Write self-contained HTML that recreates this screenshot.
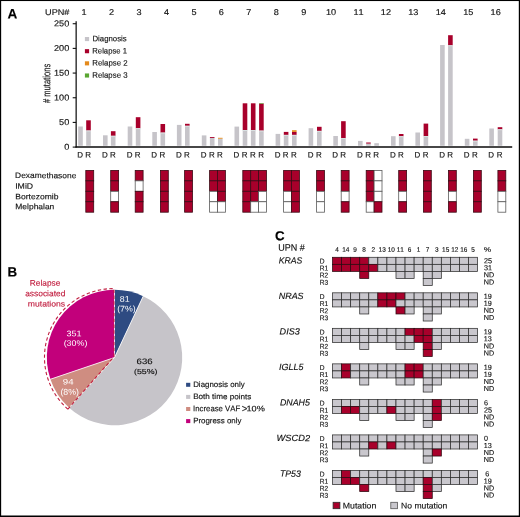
<!DOCTYPE html>
<html><head><meta charset="utf-8"><style>
html,body{margin:0;padding:0;background:#fff;}
.frame{position:relative;width:520px;height:517px;overflow:hidden;background:#fff;}
svg{position:absolute;left:0;top:0;will-change:transform;}
text{font-family:"Liberation Sans", sans-serif;text-rendering:geometricPrecision;font-kerning:none;stroke:currentColor;stroke-width:0.14px;}
</style></head><body><div class="frame">
<svg width="520" height="517" viewBox="0 0 520 517">
<rect x="0" y="0" width="520" height="517" fill="#fff"/>
<text transform="translate(7.56,18.50) matrix(0.9823,0.001,0,1,0,0)" font-size="13.808" font-weight="bold" font-style="normal" fill="#000" color="#000">A</text>
<text transform="translate(45.10,15.10) matrix(1.0828,0.001,0,1,0,0)" font-size="8.430" font-weight="normal" font-style="normal" fill="#111" color="#111">UPN#</text>
<text transform="translate(81.54,15.10) matrix(1.0800,0.001,0,1,0,0)" font-size="8.450" font-weight="normal" font-style="normal" fill="#111" color="#111">1</text>
<text transform="translate(109.10,15.10) matrix(1.0800,0.001,0,1,0,0)" font-size="8.450" font-weight="normal" font-style="normal" fill="#111" color="#111">2</text>
<text transform="translate(136.57,15.10) matrix(1.0800,0.001,0,1,0,0)" font-size="8.450" font-weight="normal" font-style="normal" fill="#111" color="#111">3</text>
<text transform="translate(164.01,15.10) matrix(1.0800,0.001,0,1,0,0)" font-size="8.450" font-weight="normal" font-style="normal" fill="#111" color="#111">4</text>
<text transform="translate(191.43,15.10) matrix(1.0800,0.001,0,1,0,0)" font-size="8.450" font-weight="normal" font-style="normal" fill="#111" color="#111">5</text>
<text transform="translate(218.83,15.10) matrix(1.0800,0.001,0,1,0,0)" font-size="8.450" font-weight="normal" font-style="normal" fill="#111" color="#111">6</text>
<text transform="translate(246.30,15.10) matrix(1.0800,0.001,0,1,0,0)" font-size="8.450" font-weight="normal" font-style="normal" fill="#111" color="#111">7</text>
<text transform="translate(273.74,15.10) matrix(1.0800,0.001,0,1,0,0)" font-size="8.450" font-weight="normal" font-style="normal" fill="#111" color="#111">8</text>
<text transform="translate(301.18,15.10) matrix(1.0800,0.001,0,1,0,0)" font-size="8.450" font-weight="normal" font-style="normal" fill="#111" color="#111">9</text>
<text transform="translate(325.92,15.10) matrix(1.0800,0.001,0,1,0,0)" font-size="8.450" font-weight="normal" font-style="normal" fill="#111" color="#111">10</text>
<text transform="translate(353.40,15.10) matrix(1.0800,0.001,0,1,0,0)" font-size="8.450" font-weight="normal" font-style="normal" fill="#111" color="#111">11</text>
<text transform="translate(380.85,15.10) matrix(1.0800,0.001,0,1,0,0)" font-size="8.450" font-weight="normal" font-style="normal" fill="#111" color="#111">12</text>
<text transform="translate(408.26,15.10) matrix(1.0800,0.001,0,1,0,0)" font-size="8.450" font-weight="normal" font-style="normal" fill="#111" color="#111">13</text>
<text transform="translate(435.63,15.10) matrix(1.0800,0.001,0,1,0,0)" font-size="8.450" font-weight="normal" font-style="normal" fill="#111" color="#111">14</text>
<text transform="translate(463.13,15.10) matrix(1.0800,0.001,0,1,0,0)" font-size="8.450" font-weight="normal" font-style="normal" fill="#111" color="#111">15</text>
<text transform="translate(490.58,15.10) matrix(1.0800,0.001,0,1,0,0)" font-size="8.450" font-weight="normal" font-style="normal" fill="#111" color="#111">16</text>
<line x1="76.15" y1="21.3" x2="76.15" y2="147.6" stroke="#111" stroke-width="1.25"/>
<line x1="72.7" y1="147.10" x2="76.2" y2="147.10" stroke="#111" stroke-width="1.1"/>
<text transform="translate(64.18,149.75) matrix(1.0800,0.001,0,1,0,0)" font-size="8.450" font-weight="normal" font-style="normal" fill="#111" color="#111">0</text>
<line x1="72.7" y1="122.42" x2="76.2" y2="122.42" stroke="#111" stroke-width="1.1"/>
<text transform="translate(59.11,125.08) matrix(1.0800,0.001,0,1,0,0)" font-size="8.450" font-weight="normal" font-style="normal" fill="#111" color="#111">50</text>
<line x1="72.7" y1="97.75" x2="76.2" y2="97.75" stroke="#111" stroke-width="1.1"/>
<text transform="translate(54.03,100.40) matrix(1.0800,0.001,0,1,0,0)" font-size="8.450" font-weight="normal" font-style="normal" fill="#111" color="#111">100</text>
<line x1="72.7" y1="73.07" x2="76.2" y2="73.07" stroke="#111" stroke-width="1.1"/>
<text transform="translate(54.03,75.72) matrix(1.0800,0.001,0,1,0,0)" font-size="8.450" font-weight="normal" font-style="normal" fill="#111" color="#111">150</text>
<line x1="72.7" y1="48.40" x2="76.2" y2="48.40" stroke="#111" stroke-width="1.1"/>
<text transform="translate(54.03,51.05) matrix(1.0800,0.001,0,1,0,0)" font-size="8.450" font-weight="normal" font-style="normal" fill="#111" color="#111">200</text>
<line x1="72.7" y1="23.72" x2="76.2" y2="23.72" stroke="#111" stroke-width="1.1"/>
<text transform="translate(54.03,26.37) matrix(1.0800,0.001,0,1,0,0)" font-size="8.450" font-weight="normal" font-style="normal" fill="#111" color="#111">250</text>
<g transform="translate(50.3,103.0) rotate(-90)">
<text transform="translate(-0.03,0) matrix(0.7250,0.001,0,1,0,0)" font-size="10.488" fill="#111" color="#111"># mutations</text>
</g>
<rect x="84.90" y="37.00" width="4.20" height="4.10" fill="#c6c4c9" />
<text transform="translate(92.46,41.30) matrix(0.9766,0.001,0,1,0,0)" font-size="8.004" font-weight="normal" font-style="normal" fill="#111" color="#111">Diagnosis</text>
<rect x="84.90" y="49.15" width="4.20" height="4.10" fill="#a8002b" />
<text transform="translate(92.27,53.45) matrix(0.9658,0.001,0,1,0,0)" font-size="8.004" font-weight="normal" font-style="normal" fill="#111" color="#111">Relapse 1</text>
<rect x="84.90" y="61.30" width="4.20" height="4.10" fill="#e48a1c" />
<text transform="translate(92.26,65.60) matrix(0.9805,0.001,0,1,0,0)" font-size="8.004" font-weight="normal" font-style="normal" fill="#111" color="#111">Relapse 2</text>
<rect x="84.90" y="73.45" width="4.20" height="4.10" fill="#5aa632" />
<text transform="translate(92.26,77.75) matrix(0.9790,0.001,0,1,0,0)" font-size="8.004" font-weight="normal" font-style="normal" fill="#111" color="#111">Relapse 3</text>
<rect x="78.20" y="126.50" width="4.60" height="19.25" fill="#c6c4c9" />
<text transform="translate(77.27,157.60) matrix(1.0000,0.001,0,1,0,0)" font-size="8.000" font-weight="normal" font-style="normal" fill="#111" color="#111">D</text>
<rect x="86.20" y="130.50" width="4.60" height="15.25" fill="#c6c4c9" />
<rect x="86.20" y="120.30" width="4.60" height="10.20" fill="#a8002b" />
<rect x="86.20" y="130.50" width="4.60" height="0.90" fill="#dbe4e4" />
<text transform="translate(85.27,157.60) matrix(1.0000,0.001,0,1,0,0)" font-size="8.000" font-weight="normal" font-style="normal" fill="#111" color="#111">R</text>
<rect x="103.00" y="135.30" width="4.60" height="10.45" fill="#c6c4c9" />
<text transform="translate(102.07,157.60) matrix(1.0000,0.001,0,1,0,0)" font-size="8.000" font-weight="normal" font-style="normal" fill="#111" color="#111">D</text>
<rect x="110.90" y="135.80" width="4.60" height="9.95" fill="#c6c4c9" />
<rect x="110.90" y="131.20" width="4.60" height="4.60" fill="#a8002b" />
<rect x="110.90" y="135.80" width="4.60" height="0.90" fill="#dbe4e4" />
<text transform="translate(109.97,157.60) matrix(1.0000,0.001,0,1,0,0)" font-size="8.000" font-weight="normal" font-style="normal" fill="#111" color="#111">R</text>
<rect x="127.70" y="126.50" width="4.60" height="19.25" fill="#c6c4c9" />
<text transform="translate(126.77,157.60) matrix(1.0000,0.001,0,1,0,0)" font-size="8.000" font-weight="normal" font-style="normal" fill="#111" color="#111">D</text>
<rect x="135.80" y="128.20" width="4.60" height="17.55" fill="#c6c4c9" />
<rect x="135.80" y="117.20" width="4.60" height="11.00" fill="#a8002b" />
<rect x="135.80" y="128.20" width="4.60" height="0.90" fill="#dbe4e4" />
<text transform="translate(134.87,157.60) matrix(1.0000,0.001,0,1,0,0)" font-size="8.000" font-weight="normal" font-style="normal" fill="#111" color="#111">R</text>
<rect x="152.30" y="132.00" width="4.60" height="13.75" fill="#c6c4c9" />
<text transform="translate(151.37,157.60) matrix(1.0000,0.001,0,1,0,0)" font-size="8.000" font-weight="normal" font-style="normal" fill="#111" color="#111">D</text>
<rect x="160.50" y="132.60" width="4.60" height="13.15" fill="#c6c4c9" />
<rect x="160.50" y="124.00" width="4.60" height="8.60" fill="#a8002b" />
<rect x="160.50" y="132.60" width="4.60" height="0.90" fill="#dbe4e4" />
<text transform="translate(159.57,157.60) matrix(1.0000,0.001,0,1,0,0)" font-size="8.000" font-weight="normal" font-style="normal" fill="#111" color="#111">R</text>
<rect x="176.90" y="124.90" width="4.60" height="20.85" fill="#c6c4c9" />
<text transform="translate(175.97,157.60) matrix(1.0000,0.001,0,1,0,0)" font-size="8.000" font-weight="normal" font-style="normal" fill="#111" color="#111">D</text>
<rect x="185.00" y="125.80" width="4.60" height="19.95" fill="#c6c4c9" />
<rect x="185.00" y="123.80" width="4.60" height="2.00" fill="#a8002b" />
<rect x="185.00" y="125.80" width="4.60" height="0.90" fill="#dbe4e4" />
<text transform="translate(184.07,157.60) matrix(1.0000,0.001,0,1,0,0)" font-size="8.000" font-weight="normal" font-style="normal" fill="#111" color="#111">R</text>
<rect x="201.80" y="135.40" width="4.60" height="10.35" fill="#c6c4c9" />
<text transform="translate(200.87,157.60) matrix(1.0000,0.001,0,1,0,0)" font-size="8.000" font-weight="normal" font-style="normal" fill="#111" color="#111">D</text>
<rect x="209.90" y="138.00" width="4.60" height="7.75" fill="#c6c4c9" />
<rect x="209.90" y="137.10" width="4.60" height="0.90" fill="#a8002b" />
<text transform="translate(208.97,157.60) matrix(1.0000,0.001,0,1,0,0)" font-size="8.000" font-weight="normal" font-style="normal" fill="#111" color="#111">R</text>
<rect x="218.00" y="138.70" width="4.60" height="7.05" fill="#c6c4c9" />
<rect x="218.00" y="137.80" width="4.60" height="0.90" fill="#e48a1c" />
<text transform="translate(217.07,157.60) matrix(1.0000,0.001,0,1,0,0)" font-size="8.000" font-weight="normal" font-style="normal" fill="#111" color="#111">R</text>
<rect x="234.50" y="126.60" width="4.60" height="19.15" fill="#c6c4c9" />
<text transform="translate(233.57,157.60) matrix(1.0000,0.001,0,1,0,0)" font-size="8.000" font-weight="normal" font-style="normal" fill="#111" color="#111">D</text>
<rect x="242.70" y="130.00" width="4.60" height="15.75" fill="#c6c4c9" />
<rect x="242.70" y="103.30" width="4.60" height="26.70" fill="#a8002b" />
<rect x="242.70" y="130.00" width="4.60" height="0.90" fill="#dbe4e4" />
<text transform="translate(241.77,157.60) matrix(1.0000,0.001,0,1,0,0)" font-size="8.000" font-weight="normal" font-style="normal" fill="#111" color="#111">R</text>
<rect x="250.90" y="130.00" width="4.60" height="15.75" fill="#c6c4c9" />
<rect x="250.90" y="103.30" width="4.60" height="26.70" fill="#a8002b" />
<rect x="250.90" y="130.00" width="4.60" height="0.90" fill="#dbe4e4" />
<text transform="translate(249.97,157.60) matrix(1.0000,0.001,0,1,0,0)" font-size="8.000" font-weight="normal" font-style="normal" fill="#111" color="#111">R</text>
<rect x="259.10" y="130.60" width="4.60" height="15.15" fill="#c6c4c9" />
<rect x="259.10" y="103.60" width="4.60" height="27.00" fill="#a8002b" />
<rect x="259.10" y="130.60" width="4.60" height="0.90" fill="#dbe4e4" />
<rect x="259.10" y="103.00" width="4.60" height="0.60" fill="#5aa632" />
<text transform="translate(258.17,157.60) matrix(1.0000,0.001,0,1,0,0)" font-size="8.000" font-weight="normal" font-style="normal" fill="#111" color="#111">R</text>
<rect x="275.60" y="133.90" width="4.60" height="11.85" fill="#c6c4c9" />
<text transform="translate(274.67,157.60) matrix(1.0000,0.001,0,1,0,0)" font-size="8.000" font-weight="normal" font-style="normal" fill="#111" color="#111">D</text>
<rect x="283.80" y="134.90" width="4.60" height="10.85" fill="#c6c4c9" />
<rect x="283.80" y="131.90" width="4.60" height="3.00" fill="#a8002b" />
<rect x="283.80" y="134.90" width="4.60" height="0.90" fill="#dbe4e4" />
<text transform="translate(282.87,157.60) matrix(1.0000,0.001,0,1,0,0)" font-size="8.000" font-weight="normal" font-style="normal" fill="#111" color="#111">R</text>
<rect x="292.00" y="134.90" width="4.60" height="10.85" fill="#c6c4c9" />
<rect x="292.00" y="131.90" width="4.60" height="3.00" fill="#a8002b" />
<rect x="292.00" y="134.90" width="4.60" height="0.90" fill="#dbe4e4" />
<rect x="292.00" y="130.20" width="4.60" height="1.70" fill="#e48a1c" />
<text transform="translate(291.07,157.60) matrix(1.0000,0.001,0,1,0,0)" font-size="8.000" font-weight="normal" font-style="normal" fill="#111" color="#111">R</text>
<rect x="308.60" y="128.20" width="4.60" height="17.55" fill="#c6c4c9" />
<text transform="translate(307.67,157.60) matrix(1.0000,0.001,0,1,0,0)" font-size="8.000" font-weight="normal" font-style="normal" fill="#111" color="#111">D</text>
<rect x="317.00" y="130.90" width="4.60" height="14.85" fill="#c6c4c9" />
<rect x="317.00" y="126.80" width="4.60" height="4.10" fill="#a8002b" />
<rect x="317.00" y="130.90" width="4.60" height="0.90" fill="#dbe4e4" />
<text transform="translate(316.07,157.60) matrix(1.0000,0.001,0,1,0,0)" font-size="8.000" font-weight="normal" font-style="normal" fill="#111" color="#111">R</text>
<rect x="333.30" y="136.00" width="4.60" height="9.75" fill="#c6c4c9" />
<text transform="translate(332.37,157.60) matrix(1.0000,0.001,0,1,0,0)" font-size="8.000" font-weight="normal" font-style="normal" fill="#111" color="#111">D</text>
<rect x="341.10" y="138.10" width="4.60" height="7.65" fill="#c6c4c9" />
<rect x="341.10" y="121.20" width="4.60" height="16.90" fill="#a8002b" />
<rect x="341.10" y="138.10" width="4.60" height="0.90" fill="#dbe4e4" />
<text transform="translate(340.17,157.60) matrix(1.0000,0.001,0,1,0,0)" font-size="8.000" font-weight="normal" font-style="normal" fill="#111" color="#111">R</text>
<rect x="358.00" y="140.90" width="4.60" height="4.85" fill="#c6c4c9" />
<text transform="translate(357.07,157.60) matrix(1.0000,0.001,0,1,0,0)" font-size="8.000" font-weight="normal" font-style="normal" fill="#111" color="#111">D</text>
<rect x="366.15" y="143.60" width="4.60" height="2.15" fill="#c6c4c9" />
<rect x="366.15" y="142.50" width="4.60" height="1.10" fill="#a8002b" />
<text transform="translate(365.22,157.60) matrix(1.0000,0.001,0,1,0,0)" font-size="8.000" font-weight="normal" font-style="normal" fill="#111" color="#111">R</text>
<rect x="374.30" y="143.20" width="4.60" height="2.55" fill="#c6c4c9" />
<text transform="translate(373.37,157.60) matrix(1.0000,0.001,0,1,0,0)" font-size="8.000" font-weight="normal" font-style="normal" fill="#111" color="#111">R</text>
<rect x="391.00" y="136.20" width="4.60" height="9.55" fill="#c6c4c9" />
<text transform="translate(390.07,157.60) matrix(1.0000,0.001,0,1,0,0)" font-size="8.000" font-weight="normal" font-style="normal" fill="#111" color="#111">D</text>
<rect x="398.90" y="136.20" width="4.60" height="9.55" fill="#c6c4c9" />
<rect x="398.90" y="134.00" width="4.60" height="2.20" fill="#a8002b" />
<rect x="398.90" y="136.20" width="4.60" height="0.90" fill="#dbe4e4" />
<text transform="translate(397.97,157.60) matrix(1.0000,0.001,0,1,0,0)" font-size="8.000" font-weight="normal" font-style="normal" fill="#111" color="#111">R</text>
<rect x="415.40" y="132.50" width="4.60" height="13.25" fill="#c6c4c9" />
<text transform="translate(414.47,157.60) matrix(1.0000,0.001,0,1,0,0)" font-size="8.000" font-weight="normal" font-style="normal" fill="#111" color="#111">D</text>
<rect x="423.60" y="136.00" width="4.60" height="9.75" fill="#c6c4c9" />
<rect x="423.60" y="123.60" width="4.60" height="12.40" fill="#a8002b" />
<rect x="423.60" y="136.00" width="4.60" height="0.90" fill="#dbe4e4" />
<text transform="translate(422.67,157.60) matrix(1.0000,0.001,0,1,0,0)" font-size="8.000" font-weight="normal" font-style="normal" fill="#111" color="#111">R</text>
<rect x="440.10" y="45.00" width="4.60" height="100.75" fill="#c6c4c9" />
<text transform="translate(439.17,157.60) matrix(1.0000,0.001,0,1,0,0)" font-size="8.000" font-weight="normal" font-style="normal" fill="#111" color="#111">D</text>
<rect x="448.10" y="45.30" width="4.60" height="100.45" fill="#c6c4c9" />
<rect x="448.10" y="35.20" width="4.60" height="10.10" fill="#a8002b" />
<rect x="448.10" y="45.30" width="4.60" height="0.90" fill="#dbe4e4" />
<text transform="translate(447.17,157.60) matrix(1.0000,0.001,0,1,0,0)" font-size="8.000" font-weight="normal" font-style="normal" fill="#111" color="#111">R</text>
<rect x="464.80" y="138.80" width="4.60" height="6.95" fill="#c6c4c9" />
<text transform="translate(463.87,157.60) matrix(1.0000,0.001,0,1,0,0)" font-size="8.000" font-weight="normal" font-style="normal" fill="#111" color="#111">D</text>
<rect x="473.00" y="140.70" width="4.60" height="5.05" fill="#c6c4c9" />
<rect x="473.00" y="138.60" width="4.60" height="2.10" fill="#a8002b" />
<rect x="473.00" y="140.70" width="4.60" height="0.90" fill="#dbe4e4" />
<text transform="translate(472.07,157.60) matrix(1.0000,0.001,0,1,0,0)" font-size="8.000" font-weight="normal" font-style="normal" fill="#111" color="#111">R</text>
<rect x="489.30" y="128.50" width="4.60" height="17.25" fill="#c6c4c9" />
<text transform="translate(488.37,157.60) matrix(1.0000,0.001,0,1,0,0)" font-size="8.000" font-weight="normal" font-style="normal" fill="#111" color="#111">D</text>
<rect x="497.70" y="129.30" width="4.60" height="16.45" fill="#c6c4c9" />
<rect x="497.70" y="127.20" width="4.60" height="2.10" fill="#a8002b" />
<rect x="497.70" y="129.30" width="4.60" height="0.90" fill="#dbe4e4" />
<text transform="translate(496.77,157.60) matrix(1.0000,0.001,0,1,0,0)" font-size="8.000" font-weight="normal" font-style="normal" fill="#111" color="#111">R</text>
<line x1="75.5" y1="146.95" x2="512.2" y2="146.95" stroke="#0a0a0a" stroke-width="1.35"/>
<text transform="translate(15.11,178.10) matrix(1.0510,0.001,0,1,0,0)" font-size="8.004" font-weight="normal" font-style="normal" fill="#111" color="#111">Dexamethasone</text>
<text transform="translate(15.20,188.70) matrix(1.0895,0.001,0,1,0,0)" font-size="8.004" font-weight="normal" font-style="normal" fill="#111" color="#111">IMiD</text>
<text transform="translate(15.30,199.25) matrix(1.0779,0.001,0,1,0,0)" font-size="7.935" font-weight="normal" font-style="normal" fill="#111" color="#111">Bortezomib</text>
<text transform="translate(15.31,209.30) matrix(1.0757,0.001,0,1,0,0)" font-size="7.866" font-weight="normal" font-style="normal" fill="#111" color="#111">Melphalan</text>
<rect x="85.80" y="170.40" width="7.90" height="10.45" fill="#a8002b" stroke="#3a0a14" stroke-width="0.8"/>
<rect x="85.80" y="180.85" width="7.90" height="10.45" fill="#a8002b" stroke="#3a0a14" stroke-width="0.8"/>
<rect x="85.80" y="191.30" width="7.90" height="10.45" fill="#a8002b" stroke="#3a0a14" stroke-width="0.8"/>
<rect x="85.80" y="201.75" width="7.90" height="10.45" fill="#a8002b" stroke="#3a0a14" stroke-width="0.8"/>
<rect x="110.70" y="170.40" width="7.90" height="10.45" fill="#a8002b" stroke="#3a0a14" stroke-width="0.8"/>
<rect x="110.70" y="180.85" width="7.90" height="10.45" fill="#a8002b" stroke="#3a0a14" stroke-width="0.8"/>
<rect x="110.70" y="191.30" width="7.90" height="10.45" fill="#fff" stroke="#5a5a5a" stroke-width="0.8"/>
<rect x="110.70" y="201.75" width="7.90" height="10.45" fill="#a8002b" stroke="#3a0a14" stroke-width="0.8"/>
<rect x="135.20" y="170.40" width="7.90" height="10.45" fill="#a8002b" stroke="#3a0a14" stroke-width="0.8"/>
<rect x="135.20" y="180.85" width="7.90" height="10.45" fill="#fff" stroke="#5a5a5a" stroke-width="0.8"/>
<rect x="135.20" y="191.30" width="7.90" height="10.45" fill="#a8002b" stroke="#3a0a14" stroke-width="0.8"/>
<rect x="135.20" y="201.75" width="7.90" height="10.45" fill="#a8002b" stroke="#3a0a14" stroke-width="0.8"/>
<rect x="160.40" y="170.40" width="7.90" height="10.45" fill="#a8002b" stroke="#3a0a14" stroke-width="0.8"/>
<rect x="160.40" y="180.85" width="7.90" height="10.45" fill="#a8002b" stroke="#3a0a14" stroke-width="0.8"/>
<rect x="160.40" y="191.30" width="7.90" height="10.45" fill="#a8002b" stroke="#3a0a14" stroke-width="0.8"/>
<rect x="160.40" y="201.75" width="7.90" height="10.45" fill="#a8002b" stroke="#3a0a14" stroke-width="0.8"/>
<rect x="184.60" y="170.40" width="7.90" height="10.45" fill="#a8002b" stroke="#3a0a14" stroke-width="0.8"/>
<rect x="184.60" y="180.85" width="7.90" height="10.45" fill="#a8002b" stroke="#3a0a14" stroke-width="0.8"/>
<rect x="184.60" y="191.30" width="7.90" height="10.45" fill="#a8002b" stroke="#3a0a14" stroke-width="0.8"/>
<rect x="184.60" y="201.75" width="7.90" height="10.45" fill="#a8002b" stroke="#3a0a14" stroke-width="0.8"/>
<rect x="209.60" y="170.40" width="7.90" height="10.45" fill="#a8002b" stroke="#3a0a14" stroke-width="0.8"/>
<rect x="209.60" y="180.85" width="7.90" height="10.45" fill="#a8002b" stroke="#3a0a14" stroke-width="0.8"/>
<rect x="209.60" y="191.30" width="7.90" height="10.45" fill="#fff" stroke="#5a5a5a" stroke-width="0.8"/>
<rect x="209.60" y="201.75" width="7.90" height="10.45" fill="#fff" stroke="#5a5a5a" stroke-width="0.8"/>
<rect x="217.50" y="170.40" width="7.90" height="10.45" fill="#a8002b" stroke="#3a0a14" stroke-width="0.8"/>
<rect x="217.50" y="180.85" width="7.90" height="10.45" fill="#a8002b" stroke="#3a0a14" stroke-width="0.8"/>
<rect x="217.50" y="191.30" width="7.90" height="10.45" fill="#a8002b" stroke="#3a0a14" stroke-width="0.8"/>
<rect x="217.50" y="201.75" width="7.90" height="10.45" fill="#fff" stroke="#5a5a5a" stroke-width="0.8"/>
<rect x="242.80" y="170.40" width="7.90" height="10.45" fill="#a8002b" stroke="#3a0a14" stroke-width="0.8"/>
<rect x="242.80" y="180.85" width="7.90" height="10.45" fill="#a8002b" stroke="#3a0a14" stroke-width="0.8"/>
<rect x="242.80" y="191.30" width="7.90" height="10.45" fill="#a8002b" stroke="#3a0a14" stroke-width="0.8"/>
<rect x="242.80" y="201.75" width="7.90" height="10.45" fill="#a8002b" stroke="#3a0a14" stroke-width="0.8"/>
<rect x="250.70" y="170.40" width="7.90" height="10.45" fill="#a8002b" stroke="#3a0a14" stroke-width="0.8"/>
<rect x="250.70" y="180.85" width="7.90" height="10.45" fill="#a8002b" stroke="#3a0a14" stroke-width="0.8"/>
<rect x="250.70" y="191.30" width="7.90" height="10.45" fill="#a8002b" stroke="#3a0a14" stroke-width="0.8"/>
<rect x="250.70" y="201.75" width="7.90" height="10.45" fill="#fff" stroke="#5a5a5a" stroke-width="0.8"/>
<rect x="258.60" y="170.40" width="7.90" height="10.45" fill="#a8002b" stroke="#3a0a14" stroke-width="0.8"/>
<rect x="258.60" y="180.85" width="7.90" height="10.45" fill="#a8002b" stroke="#3a0a14" stroke-width="0.8"/>
<rect x="258.60" y="191.30" width="7.90" height="10.45" fill="#fff" stroke="#5a5a5a" stroke-width="0.8"/>
<rect x="258.60" y="201.75" width="7.90" height="10.45" fill="#fff" stroke="#5a5a5a" stroke-width="0.8"/>
<rect x="283.60" y="170.40" width="7.90" height="10.45" fill="#a8002b" stroke="#3a0a14" stroke-width="0.8"/>
<rect x="283.60" y="180.85" width="7.90" height="10.45" fill="#a8002b" stroke="#3a0a14" stroke-width="0.8"/>
<rect x="283.60" y="191.30" width="7.90" height="10.45" fill="#fff" stroke="#5a5a5a" stroke-width="0.8"/>
<rect x="283.60" y="201.75" width="7.90" height="10.45" fill="#fff" stroke="#5a5a5a" stroke-width="0.8"/>
<rect x="291.50" y="170.40" width="7.90" height="10.45" fill="#a8002b" stroke="#3a0a14" stroke-width="0.8"/>
<rect x="291.50" y="180.85" width="7.90" height="10.45" fill="#a8002b" stroke="#3a0a14" stroke-width="0.8"/>
<rect x="291.50" y="191.30" width="7.90" height="10.45" fill="#a8002b" stroke="#3a0a14" stroke-width="0.8"/>
<rect x="291.50" y="201.75" width="7.90" height="10.45" fill="#a8002b" stroke="#3a0a14" stroke-width="0.8"/>
<rect x="316.60" y="170.40" width="7.90" height="10.45" fill="#a8002b" stroke="#3a0a14" stroke-width="0.8"/>
<rect x="316.60" y="180.85" width="7.90" height="10.45" fill="#a8002b" stroke="#3a0a14" stroke-width="0.8"/>
<rect x="316.60" y="191.30" width="7.90" height="10.45" fill="#fff" stroke="#5a5a5a" stroke-width="0.8"/>
<rect x="316.60" y="201.75" width="7.90" height="10.45" fill="#fff" stroke="#5a5a5a" stroke-width="0.8"/>
<rect x="341.20" y="170.40" width="7.90" height="10.45" fill="#a8002b" stroke="#3a0a14" stroke-width="0.8"/>
<rect x="341.20" y="180.85" width="7.90" height="10.45" fill="#a8002b" stroke="#3a0a14" stroke-width="0.8"/>
<rect x="341.20" y="191.30" width="7.90" height="10.45" fill="#fff" stroke="#5a5a5a" stroke-width="0.8"/>
<rect x="341.20" y="201.75" width="7.90" height="10.45" fill="#a8002b" stroke="#3a0a14" stroke-width="0.8"/>
<rect x="366.20" y="170.40" width="7.90" height="10.45" fill="#a8002b" stroke="#3a0a14" stroke-width="0.8"/>
<rect x="366.20" y="180.85" width="7.90" height="10.45" fill="#a8002b" stroke="#3a0a14" stroke-width="0.8"/>
<rect x="366.20" y="191.30" width="7.90" height="10.45" fill="#a8002b" stroke="#3a0a14" stroke-width="0.8"/>
<rect x="366.20" y="201.75" width="7.90" height="10.45" fill="#fff" stroke="#5a5a5a" stroke-width="0.8"/>
<rect x="374.10" y="170.40" width="7.90" height="10.45" fill="#fff" stroke="#5a5a5a" stroke-width="0.8"/>
<rect x="374.10" y="180.85" width="7.90" height="10.45" fill="#fff" stroke="#5a5a5a" stroke-width="0.8"/>
<rect x="374.10" y="191.30" width="7.90" height="10.45" fill="#fff" stroke="#5a5a5a" stroke-width="0.8"/>
<rect x="374.10" y="201.75" width="7.90" height="10.45" fill="#a8002b" stroke="#3a0a14" stroke-width="0.8"/>
<rect x="398.70" y="170.40" width="7.90" height="10.45" fill="#a8002b" stroke="#3a0a14" stroke-width="0.8"/>
<rect x="398.70" y="180.85" width="7.90" height="10.45" fill="#a8002b" stroke="#3a0a14" stroke-width="0.8"/>
<rect x="398.70" y="191.30" width="7.90" height="10.45" fill="#fff" stroke="#5a5a5a" stroke-width="0.8"/>
<rect x="398.70" y="201.75" width="7.90" height="10.45" fill="#a8002b" stroke="#3a0a14" stroke-width="0.8"/>
<rect x="423.40" y="170.40" width="7.90" height="10.45" fill="#a8002b" stroke="#3a0a14" stroke-width="0.8"/>
<rect x="423.40" y="180.85" width="7.90" height="10.45" fill="#a8002b" stroke="#3a0a14" stroke-width="0.8"/>
<rect x="423.40" y="191.30" width="7.90" height="10.45" fill="#a8002b" stroke="#3a0a14" stroke-width="0.8"/>
<rect x="423.40" y="201.75" width="7.90" height="10.45" fill="#a8002b" stroke="#3a0a14" stroke-width="0.8"/>
<rect x="448.40" y="170.40" width="7.90" height="10.45" fill="#a8002b" stroke="#3a0a14" stroke-width="0.8"/>
<rect x="448.40" y="180.85" width="7.90" height="10.45" fill="#a8002b" stroke="#3a0a14" stroke-width="0.8"/>
<rect x="448.40" y="191.30" width="7.90" height="10.45" fill="#fff" stroke="#5a5a5a" stroke-width="0.8"/>
<rect x="448.40" y="201.75" width="7.90" height="10.45" fill="#a8002b" stroke="#3a0a14" stroke-width="0.8"/>
<rect x="473.40" y="170.40" width="7.90" height="10.45" fill="#a8002b" stroke="#3a0a14" stroke-width="0.8"/>
<rect x="473.40" y="180.85" width="7.90" height="10.45" fill="#a8002b" stroke="#3a0a14" stroke-width="0.8"/>
<rect x="473.40" y="191.30" width="7.90" height="10.45" fill="#a8002b" stroke="#3a0a14" stroke-width="0.8"/>
<rect x="473.40" y="201.75" width="7.90" height="10.45" fill="#a8002b" stroke="#3a0a14" stroke-width="0.8"/>
<rect x="497.90" y="170.40" width="7.90" height="10.45" fill="#a8002b" stroke="#3a0a14" stroke-width="0.8"/>
<rect x="497.90" y="180.85" width="7.90" height="10.45" fill="#a8002b" stroke="#3a0a14" stroke-width="0.8"/>
<rect x="497.90" y="191.30" width="7.90" height="10.45" fill="#fff" stroke="#5a5a5a" stroke-width="0.8"/>
<rect x="497.90" y="201.75" width="7.90" height="10.45" fill="#fff" stroke="#5a5a5a" stroke-width="0.8"/>
<text transform="translate(7.56,276.60) matrix(0.9994,0.001,0,1,0,0)" font-size="13.372" font-weight="bold" font-style="normal" fill="#000" color="#000">B</text>
<path d="M114.5,357.5 L114.50,289.80 A67.7,67.7 0 0 1 143.21,296.19 Z" fill="#2e4b82"/>
<path d="M114.5,357.5 L143.21,296.19 A67.7,67.7 0 1 1 69.08,407.70 Z" fill="#c6c4c9"/>
<path d="M114.5,357.5 L69.08,407.70 A67.7,67.7 0 0 1 50.39,379.25 Z" fill="#cf8d81"/>
<path d="M114.5,357.5 L50.39,379.25 A67.7,67.7 0 0 1 114.50,289.80 Z" fill="#c2007b"/>
<line x1="114.5" y1="357.5" x2="114.50" y2="289.30" stroke="#fff" stroke-width="0.8"/>
<line x1="114.5" y1="357.5" x2="143.42" y2="295.74" stroke="#fff" stroke-width="0.8"/>
<line x1="114.5" y1="357.5" x2="68.75" y2="408.08" stroke="#fff" stroke-width="0.8"/>
<line x1="114.5" y1="357.5" x2="49.92" y2="379.41" stroke="#fff" stroke-width="0.8"/>
<path d="M67.9,409.1 L113.95,356.9 L113.95,288.6 A68.8,68.8 0 0 0 67.9,409.1" fill="none" stroke="#c01c3e" stroke-width="1.1" stroke-dasharray="3.4,2.4"/>
<text transform="translate(119.87,301.75) matrix(1.0715,0.001,0,1,0,0)" font-size="8.235" font-weight="normal" font-style="normal" fill="#fff" color="#fff" style="stroke:none">81</text>
<text transform="translate(117.20,311.53) matrix(1.0586,0.001,0,1,0,0)" font-size="8.319" font-weight="normal" font-style="normal" fill="#fff" color="#fff" style="stroke:none">(7%)</text>
<text transform="translate(136.61,364.00) matrix(1.2181,0.001,0,1,0,0)" font-size="7.877" font-weight="normal" font-style="normal" fill="#111" color="#111">636</text>
<text transform="translate(134.05,374.09) matrix(1.2066,0.001,0,1,0,0)" font-size="7.299" font-weight="normal" font-style="normal" fill="#111" color="#111">(55%)</text>
<text transform="translate(66.56,336.20) matrix(1.1076,0.001,0,1,0,0)" font-size="8.163" font-weight="normal" font-style="normal" fill="#fff" color="#fff" style="stroke:none">351</text>
<text transform="translate(63.65,345.78) matrix(1.1390,0.001,0,1,0,0)" font-size="7.836" font-weight="normal" font-style="normal" fill="#fff" color="#fff" style="stroke:none">(30%)</text>
<text transform="translate(62.85,384.50) matrix(1.2034,0.001,0,1,0,0)" font-size="8.020" font-weight="normal" font-style="normal" fill="#fff" color="#fff" style="stroke:none">94</text>
<text transform="translate(60.46,394.64) matrix(1.0325,0.001,0,1,0,0)" font-size="8.480" font-weight="normal" font-style="normal" fill="#fff" color="#fff" style="stroke:none">(8%)</text>
<text transform="translate(29.82,285.70) matrix(1.0057,0.001,0,1,0,0)" font-size="8.280" font-weight="normal" font-style="normal" fill="#c01c3e" color="#c01c3e">Relapse</text>
<text transform="translate(25.14,296.30) matrix(1.0181,0.001,0,1,0,0)" font-size="8.280" font-weight="normal" font-style="normal" fill="#c01c3e" color="#c01c3e">associated</text>
<text transform="translate(27.73,306.50) matrix(1.0802,0.001,0,1,0,0)" font-size="8.004" font-weight="normal" font-style="normal" fill="#c01c3e" color="#c01c3e">mutations</text>
<rect x="186.10" y="382.80" width="4.20" height="4.00" fill="#2e4b82" />
<text transform="translate(193.15,387.00) matrix(1.0260,0.001,0,1,0,0)" font-size="7.728" font-weight="normal" font-style="normal" fill="#111" color="#111">Diagnosis only</text>
<rect x="186.10" y="394.90" width="4.20" height="4.00" fill="#c6c4c9" />
<text transform="translate(193.13,399.10) matrix(1.0513,0.001,0,1,0,0)" font-size="7.728" font-weight="normal" font-style="normal" fill="#111" color="#111">Both time points</text>
<rect x="186.10" y="407.00" width="4.20" height="4.00" fill="#cf8d81" />
<text transform="translate(193.08,411.20) matrix(0.9578,0.001,0,1,0,0)" font-size="8.140" font-weight="normal" font-style="normal" fill="#111" color="#111">Increase VAF</text>
<rect x="186.10" y="419.10" width="4.20" height="4.00" fill="#c2007b" />
<text transform="translate(193.15,423.30) matrix(1.0236,0.001,0,1,0,0)" font-size="7.728" font-weight="normal" font-style="normal" fill="#111" color="#111">Progress only</text>
<text transform="translate(241.83,411.98) matrix(0.9072,0.001,0,1,0,0)" font-size="10.437" font-weight="normal" font-style="normal" fill="#111" color="#111">&gt;</text>
<text transform="translate(246.50,411.20) matrix(1.1690,0.001,0,1,0,0)" font-size="7.877" font-weight="normal" font-style="normal" fill="#111" color="#111">10%</text>
<text transform="translate(274.95,240.20) matrix(1.0210,0.001,0,1,0,0)" font-size="13.033" font-weight="bold" font-style="normal" fill="#000" color="#000">C</text>
<text transform="translate(278.20,250.70) matrix(0.9686,0.001,0,1,0,0)" font-size="9.302" font-weight="normal" font-style="normal" fill="#111" color="#111">UPN #</text>
<text transform="translate(335.16,251.70) matrix(1.0000,0.001,0,1,0,0)" font-size="6.450" font-weight="normal" font-style="normal" fill="#111" color="#111">4</text>
<text transform="translate(342.27,251.70) matrix(1.0000,0.001,0,1,0,0)" font-size="6.450" font-weight="normal" font-style="normal" fill="#111" color="#111">14</text>
<text transform="translate(353.28,251.70) matrix(1.0000,0.001,0,1,0,0)" font-size="6.450" font-weight="normal" font-style="normal" fill="#111" color="#111">9</text>
<text transform="translate(362.35,251.70) matrix(1.0000,0.001,0,1,0,0)" font-size="6.450" font-weight="normal" font-style="normal" fill="#111" color="#111">8</text>
<text transform="translate(371.42,251.70) matrix(1.0000,0.001,0,1,0,0)" font-size="6.450" font-weight="normal" font-style="normal" fill="#111" color="#111">2</text>
<text transform="translate(378.59,251.70) matrix(1.0000,0.001,0,1,0,0)" font-size="6.450" font-weight="normal" font-style="normal" fill="#111" color="#111">13</text>
<text transform="translate(387.65,251.70) matrix(1.0000,0.001,0,1,0,0)" font-size="6.450" font-weight="normal" font-style="normal" fill="#111" color="#111">10</text>
<text transform="translate(396.75,251.70) matrix(1.0000,0.001,0,1,0,0)" font-size="6.450" font-weight="normal" font-style="normal" fill="#111" color="#111">11</text>
<text transform="translate(407.68,251.70) matrix(1.0000,0.001,0,1,0,0)" font-size="6.450" font-weight="normal" font-style="normal" fill="#111" color="#111">6</text>
<text transform="translate(416.68,251.70) matrix(1.0000,0.001,0,1,0,0)" font-size="6.450" font-weight="normal" font-style="normal" fill="#111" color="#111">1</text>
<text transform="translate(425.84,251.70) matrix(1.0000,0.001,0,1,0,0)" font-size="6.450" font-weight="normal" font-style="normal" fill="#111" color="#111">7</text>
<text transform="translate(434.93,251.70) matrix(1.0000,0.001,0,1,0,0)" font-size="6.450" font-weight="normal" font-style="normal" fill="#111" color="#111">3</text>
<text transform="translate(442.08,251.70) matrix(1.0000,0.001,0,1,0,0)" font-size="6.450" font-weight="normal" font-style="normal" fill="#111" color="#111">15</text>
<text transform="translate(451.17,251.70) matrix(1.0000,0.001,0,1,0,0)" font-size="6.450" font-weight="normal" font-style="normal" fill="#111" color="#111">12</text>
<text transform="translate(460.22,251.70) matrix(1.0000,0.001,0,1,0,0)" font-size="6.450" font-weight="normal" font-style="normal" fill="#111" color="#111">16</text>
<text transform="translate(471.20,251.70) matrix(1.0000,0.001,0,1,0,0)" font-size="6.450" font-weight="normal" font-style="normal" fill="#111" color="#111">5</text>
<text transform="translate(483.70,251.80) matrix(1.2541,0.001,0,1,0,0)" font-size="6.630" font-weight="normal" font-style="normal" fill="#111" color="#111">%</text>
<text transform="translate(278.74,263.50) matrix(0.9547,0.001,0,1,0,0)" font-size="9.023" font-weight="normal" font-style="italic" fill="#111" color="#111">KRAS</text>
<text transform="translate(319.65,263.50) matrix(0.9500,0.001,0,1,0,0)" font-size="7.000" font-weight="normal" font-style="normal" fill="#111" color="#111">D</text>
<rect x="332.50" y="257.30" width="9.07" height="7.05" fill="#a8002b" stroke="#2a0a10" stroke-width="0.75"/>
<rect x="341.57" y="257.30" width="9.07" height="7.05" fill="#a8002b" stroke="#2a0a10" stroke-width="0.75"/>
<rect x="350.64" y="257.30" width="9.07" height="7.05" fill="#a8002b" stroke="#2a0a10" stroke-width="0.75"/>
<rect x="359.71" y="257.30" width="9.07" height="7.05" fill="#a8002b" stroke="#2a0a10" stroke-width="0.75"/>
<rect x="368.78" y="257.30" width="9.07" height="7.05" fill="#c9c7cd" stroke="#2e2e2e" stroke-width="0.75"/>
<rect x="377.85" y="257.30" width="9.07" height="7.05" fill="#c9c7cd" stroke="#2e2e2e" stroke-width="0.75"/>
<rect x="386.92" y="257.30" width="9.07" height="7.05" fill="#c9c7cd" stroke="#2e2e2e" stroke-width="0.75"/>
<rect x="395.99" y="257.30" width="9.07" height="7.05" fill="#c9c7cd" stroke="#2e2e2e" stroke-width="0.75"/>
<rect x="405.06" y="257.30" width="9.07" height="7.05" fill="#c9c7cd" stroke="#2e2e2e" stroke-width="0.75"/>
<rect x="414.13" y="257.30" width="9.07" height="7.05" fill="#c9c7cd" stroke="#2e2e2e" stroke-width="0.75"/>
<rect x="423.20" y="257.30" width="9.07" height="7.05" fill="#c9c7cd" stroke="#2e2e2e" stroke-width="0.75"/>
<rect x="432.27" y="257.30" width="9.07" height="7.05" fill="#c9c7cd" stroke="#2e2e2e" stroke-width="0.75"/>
<rect x="441.34" y="257.30" width="9.07" height="7.05" fill="#c9c7cd" stroke="#2e2e2e" stroke-width="0.75"/>
<rect x="450.41" y="257.30" width="9.07" height="7.05" fill="#c9c7cd" stroke="#2e2e2e" stroke-width="0.75"/>
<rect x="459.48" y="257.30" width="9.07" height="7.05" fill="#c9c7cd" stroke="#2e2e2e" stroke-width="0.75"/>
<rect x="468.55" y="257.30" width="9.07" height="7.05" fill="#c9c7cd" stroke="#2e2e2e" stroke-width="0.75"/>
<text transform="translate(319.65,270.55) matrix(0.9500,0.001,0,1,0,0)" font-size="7.000" font-weight="normal" font-style="normal" fill="#111" color="#111">R1</text>
<rect x="332.50" y="264.35" width="9.07" height="7.05" fill="#a8002b" stroke="#2a0a10" stroke-width="0.75"/>
<rect x="341.57" y="264.35" width="9.07" height="7.05" fill="#a8002b" stroke="#2a0a10" stroke-width="0.75"/>
<rect x="350.64" y="264.35" width="9.07" height="7.05" fill="#a8002b" stroke="#2a0a10" stroke-width="0.75"/>
<rect x="359.71" y="264.35" width="9.07" height="7.05" fill="#a8002b" stroke="#2a0a10" stroke-width="0.75"/>
<rect x="368.78" y="264.35" width="9.07" height="7.05" fill="#a8002b" stroke="#2a0a10" stroke-width="0.75"/>
<rect x="377.85" y="264.35" width="9.07" height="7.05" fill="#c9c7cd" stroke="#2e2e2e" stroke-width="0.75"/>
<rect x="386.92" y="264.35" width="9.07" height="7.05" fill="#c9c7cd" stroke="#2e2e2e" stroke-width="0.75"/>
<rect x="395.99" y="264.35" width="9.07" height="7.05" fill="#c9c7cd" stroke="#2e2e2e" stroke-width="0.75"/>
<rect x="405.06" y="264.35" width="9.07" height="7.05" fill="#c9c7cd" stroke="#2e2e2e" stroke-width="0.75"/>
<rect x="414.13" y="264.35" width="9.07" height="7.05" fill="#c9c7cd" stroke="#2e2e2e" stroke-width="0.75"/>
<rect x="423.20" y="264.35" width="9.07" height="7.05" fill="#c9c7cd" stroke="#2e2e2e" stroke-width="0.75"/>
<rect x="432.27" y="264.35" width="9.07" height="7.05" fill="#c9c7cd" stroke="#2e2e2e" stroke-width="0.75"/>
<rect x="441.34" y="264.35" width="9.07" height="7.05" fill="#c9c7cd" stroke="#2e2e2e" stroke-width="0.75"/>
<rect x="450.41" y="264.35" width="9.07" height="7.05" fill="#c9c7cd" stroke="#2e2e2e" stroke-width="0.75"/>
<rect x="459.48" y="264.35" width="9.07" height="7.05" fill="#c9c7cd" stroke="#2e2e2e" stroke-width="0.75"/>
<rect x="468.55" y="264.35" width="9.07" height="7.05" fill="#c9c7cd" stroke="#2e2e2e" stroke-width="0.75"/>
<text transform="translate(319.65,277.60) matrix(0.9500,0.001,0,1,0,0)" font-size="7.000" font-weight="normal" font-style="normal" fill="#111" color="#111">R2</text>
<rect x="359.71" y="271.40" width="9.07" height="7.05" fill="#a8002b" stroke="#2a0a10" stroke-width="0.75"/>
<rect x="395.99" y="271.40" width="9.07" height="7.05" fill="#c9c7cd" stroke="#2e2e2e" stroke-width="0.75"/>
<rect x="405.06" y="271.40" width="9.07" height="7.05" fill="#c9c7cd" stroke="#2e2e2e" stroke-width="0.75"/>
<rect x="423.20" y="271.40" width="9.07" height="7.05" fill="#c9c7cd" stroke="#2e2e2e" stroke-width="0.75"/>
<rect x="432.27" y="271.40" width="9.07" height="7.05" fill="#c9c7cd" stroke="#2e2e2e" stroke-width="0.75"/>
<text transform="translate(319.65,284.65) matrix(0.9500,0.001,0,1,0,0)" font-size="7.000" font-weight="normal" font-style="normal" fill="#111" color="#111">R3</text>
<rect x="423.20" y="278.45" width="9.07" height="7.05" fill="#c9c7cd" stroke="#2e2e2e" stroke-width="0.75"/>
<text transform="translate(483.94,263.25) matrix(1.0000,0.001,0,1,0,0)" font-size="7.200" font-weight="normal" font-style="normal" fill="#111" color="#111">25</text>
<text transform="translate(484.03,270.30) matrix(1.0000,0.001,0,1,0,0)" font-size="7.200" font-weight="normal" font-style="normal" fill="#111" color="#111">31</text>
<text transform="translate(483.71,277.35) matrix(1.0000,0.001,0,1,0,0)" font-size="7.200" font-weight="normal" font-style="normal" fill="#111" color="#111">ND</text>
<text transform="translate(483.71,284.40) matrix(1.0000,0.001,0,1,0,0)" font-size="7.200" font-weight="normal" font-style="normal" fill="#111" color="#111">ND</text>
<text transform="translate(278.72,299.02) matrix(0.9922,0.001,0,1,0,0)" font-size="9.023" font-weight="normal" font-style="italic" fill="#111" color="#111">NRAS</text>
<text transform="translate(319.65,299.02) matrix(0.9500,0.001,0,1,0,0)" font-size="7.000" font-weight="normal" font-style="normal" fill="#111" color="#111">D</text>
<rect x="332.50" y="292.82" width="9.07" height="7.05" fill="#c9c7cd" stroke="#2e2e2e" stroke-width="0.75"/>
<rect x="341.57" y="292.82" width="9.07" height="7.05" fill="#c9c7cd" stroke="#2e2e2e" stroke-width="0.75"/>
<rect x="350.64" y="292.82" width="9.07" height="7.05" fill="#c9c7cd" stroke="#2e2e2e" stroke-width="0.75"/>
<rect x="359.71" y="292.82" width="9.07" height="7.05" fill="#c9c7cd" stroke="#2e2e2e" stroke-width="0.75"/>
<rect x="368.78" y="292.82" width="9.07" height="7.05" fill="#c9c7cd" stroke="#2e2e2e" stroke-width="0.75"/>
<rect x="377.85" y="292.82" width="9.07" height="7.05" fill="#a8002b" stroke="#2a0a10" stroke-width="0.75"/>
<rect x="386.92" y="292.82" width="9.07" height="7.05" fill="#a8002b" stroke="#2a0a10" stroke-width="0.75"/>
<rect x="395.99" y="292.82" width="9.07" height="7.05" fill="#a8002b" stroke="#2a0a10" stroke-width="0.75"/>
<rect x="405.06" y="292.82" width="9.07" height="7.05" fill="#c9c7cd" stroke="#2e2e2e" stroke-width="0.75"/>
<rect x="414.13" y="292.82" width="9.07" height="7.05" fill="#c9c7cd" stroke="#2e2e2e" stroke-width="0.75"/>
<rect x="423.20" y="292.82" width="9.07" height="7.05" fill="#c9c7cd" stroke="#2e2e2e" stroke-width="0.75"/>
<rect x="432.27" y="292.82" width="9.07" height="7.05" fill="#c9c7cd" stroke="#2e2e2e" stroke-width="0.75"/>
<rect x="441.34" y="292.82" width="9.07" height="7.05" fill="#c9c7cd" stroke="#2e2e2e" stroke-width="0.75"/>
<rect x="450.41" y="292.82" width="9.07" height="7.05" fill="#c9c7cd" stroke="#2e2e2e" stroke-width="0.75"/>
<rect x="459.48" y="292.82" width="9.07" height="7.05" fill="#c9c7cd" stroke="#2e2e2e" stroke-width="0.75"/>
<rect x="468.55" y="292.82" width="9.07" height="7.05" fill="#c9c7cd" stroke="#2e2e2e" stroke-width="0.75"/>
<text transform="translate(319.65,306.07) matrix(0.9500,0.001,0,1,0,0)" font-size="7.000" font-weight="normal" font-style="normal" fill="#111" color="#111">R1</text>
<rect x="332.50" y="299.87" width="9.07" height="7.05" fill="#c9c7cd" stroke="#2e2e2e" stroke-width="0.75"/>
<rect x="341.57" y="299.87" width="9.07" height="7.05" fill="#c9c7cd" stroke="#2e2e2e" stroke-width="0.75"/>
<rect x="350.64" y="299.87" width="9.07" height="7.05" fill="#c9c7cd" stroke="#2e2e2e" stroke-width="0.75"/>
<rect x="359.71" y="299.87" width="9.07" height="7.05" fill="#c9c7cd" stroke="#2e2e2e" stroke-width="0.75"/>
<rect x="368.78" y="299.87" width="9.07" height="7.05" fill="#c9c7cd" stroke="#2e2e2e" stroke-width="0.75"/>
<rect x="377.85" y="299.87" width="9.07" height="7.05" fill="#a8002b" stroke="#2a0a10" stroke-width="0.75"/>
<rect x="386.92" y="299.87" width="9.07" height="7.05" fill="#a8002b" stroke="#2a0a10" stroke-width="0.75"/>
<rect x="395.99" y="299.87" width="9.07" height="7.05" fill="#c9c7cd" stroke="#2e2e2e" stroke-width="0.75"/>
<rect x="405.06" y="299.87" width="9.07" height="7.05" fill="#c9c7cd" stroke="#2e2e2e" stroke-width="0.75"/>
<rect x="414.13" y="299.87" width="9.07" height="7.05" fill="#c9c7cd" stroke="#2e2e2e" stroke-width="0.75"/>
<rect x="423.20" y="299.87" width="9.07" height="7.05" fill="#c9c7cd" stroke="#2e2e2e" stroke-width="0.75"/>
<rect x="432.27" y="299.87" width="9.07" height="7.05" fill="#c9c7cd" stroke="#2e2e2e" stroke-width="0.75"/>
<rect x="441.34" y="299.87" width="9.07" height="7.05" fill="#c9c7cd" stroke="#2e2e2e" stroke-width="0.75"/>
<rect x="450.41" y="299.87" width="9.07" height="7.05" fill="#c9c7cd" stroke="#2e2e2e" stroke-width="0.75"/>
<rect x="459.48" y="299.87" width="9.07" height="7.05" fill="#c9c7cd" stroke="#2e2e2e" stroke-width="0.75"/>
<rect x="468.55" y="299.87" width="9.07" height="7.05" fill="#c9c7cd" stroke="#2e2e2e" stroke-width="0.75"/>
<text transform="translate(319.65,313.12) matrix(0.9500,0.001,0,1,0,0)" font-size="7.000" font-weight="normal" font-style="normal" fill="#111" color="#111">R2</text>
<rect x="359.71" y="306.92" width="9.07" height="7.05" fill="#c9c7cd" stroke="#2e2e2e" stroke-width="0.75"/>
<rect x="395.99" y="306.92" width="9.07" height="7.05" fill="#a8002b" stroke="#2a0a10" stroke-width="0.75"/>
<rect x="405.06" y="306.92" width="9.07" height="7.05" fill="#c9c7cd" stroke="#2e2e2e" stroke-width="0.75"/>
<rect x="423.20" y="306.92" width="9.07" height="7.05" fill="#c9c7cd" stroke="#2e2e2e" stroke-width="0.75"/>
<rect x="432.27" y="306.92" width="9.07" height="7.05" fill="#c9c7cd" stroke="#2e2e2e" stroke-width="0.75"/>
<text transform="translate(319.65,320.17) matrix(0.9500,0.001,0,1,0,0)" font-size="7.000" font-weight="normal" font-style="normal" fill="#111" color="#111">R3</text>
<rect x="423.20" y="313.97" width="9.07" height="7.05" fill="#c9c7cd" stroke="#2e2e2e" stroke-width="0.75"/>
<text transform="translate(483.75,298.77) matrix(1.0000,0.001,0,1,0,0)" font-size="7.200" font-weight="normal" font-style="normal" fill="#111" color="#111">19</text>
<text transform="translate(483.75,305.82) matrix(1.0000,0.001,0,1,0,0)" font-size="7.200" font-weight="normal" font-style="normal" fill="#111" color="#111">19</text>
<text transform="translate(483.71,312.87) matrix(1.0000,0.001,0,1,0,0)" font-size="7.200" font-weight="normal" font-style="normal" fill="#111" color="#111">ND</text>
<text transform="translate(483.71,319.92) matrix(1.0000,0.001,0,1,0,0)" font-size="7.200" font-weight="normal" font-style="normal" fill="#111" color="#111">ND</text>
<text transform="translate(279.62,334.54) matrix(1.0050,0.001,0,1,0,0)" font-size="9.023" font-weight="normal" font-style="italic" fill="#111" color="#111">DIS3</text>
<text transform="translate(319.65,334.54) matrix(0.9500,0.001,0,1,0,0)" font-size="7.000" font-weight="normal" font-style="normal" fill="#111" color="#111">D</text>
<rect x="332.50" y="328.34" width="9.07" height="7.05" fill="#c9c7cd" stroke="#2e2e2e" stroke-width="0.75"/>
<rect x="341.57" y="328.34" width="9.07" height="7.05" fill="#c9c7cd" stroke="#2e2e2e" stroke-width="0.75"/>
<rect x="350.64" y="328.34" width="9.07" height="7.05" fill="#c9c7cd" stroke="#2e2e2e" stroke-width="0.75"/>
<rect x="359.71" y="328.34" width="9.07" height="7.05" fill="#c9c7cd" stroke="#2e2e2e" stroke-width="0.75"/>
<rect x="368.78" y="328.34" width="9.07" height="7.05" fill="#c9c7cd" stroke="#2e2e2e" stroke-width="0.75"/>
<rect x="377.85" y="328.34" width="9.07" height="7.05" fill="#c9c7cd" stroke="#2e2e2e" stroke-width="0.75"/>
<rect x="386.92" y="328.34" width="9.07" height="7.05" fill="#c9c7cd" stroke="#2e2e2e" stroke-width="0.75"/>
<rect x="395.99" y="328.34" width="9.07" height="7.05" fill="#c9c7cd" stroke="#2e2e2e" stroke-width="0.75"/>
<rect x="405.06" y="328.34" width="9.07" height="7.05" fill="#a8002b" stroke="#2a0a10" stroke-width="0.75"/>
<rect x="414.13" y="328.34" width="9.07" height="7.05" fill="#a8002b" stroke="#2a0a10" stroke-width="0.75"/>
<rect x="423.20" y="328.34" width="9.07" height="7.05" fill="#a8002b" stroke="#2a0a10" stroke-width="0.75"/>
<rect x="432.27" y="328.34" width="9.07" height="7.05" fill="#c9c7cd" stroke="#2e2e2e" stroke-width="0.75"/>
<rect x="441.34" y="328.34" width="9.07" height="7.05" fill="#c9c7cd" stroke="#2e2e2e" stroke-width="0.75"/>
<rect x="450.41" y="328.34" width="9.07" height="7.05" fill="#c9c7cd" stroke="#2e2e2e" stroke-width="0.75"/>
<rect x="459.48" y="328.34" width="9.07" height="7.05" fill="#c9c7cd" stroke="#2e2e2e" stroke-width="0.75"/>
<rect x="468.55" y="328.34" width="9.07" height="7.05" fill="#c9c7cd" stroke="#2e2e2e" stroke-width="0.75"/>
<text transform="translate(319.65,341.59) matrix(0.9500,0.001,0,1,0,0)" font-size="7.000" font-weight="normal" font-style="normal" fill="#111" color="#111">R1</text>
<rect x="332.50" y="335.39" width="9.07" height="7.05" fill="#c9c7cd" stroke="#2e2e2e" stroke-width="0.75"/>
<rect x="341.57" y="335.39" width="9.07" height="7.05" fill="#c9c7cd" stroke="#2e2e2e" stroke-width="0.75"/>
<rect x="350.64" y="335.39" width="9.07" height="7.05" fill="#c9c7cd" stroke="#2e2e2e" stroke-width="0.75"/>
<rect x="359.71" y="335.39" width="9.07" height="7.05" fill="#c9c7cd" stroke="#2e2e2e" stroke-width="0.75"/>
<rect x="368.78" y="335.39" width="9.07" height="7.05" fill="#c9c7cd" stroke="#2e2e2e" stroke-width="0.75"/>
<rect x="377.85" y="335.39" width="9.07" height="7.05" fill="#c9c7cd" stroke="#2e2e2e" stroke-width="0.75"/>
<rect x="386.92" y="335.39" width="9.07" height="7.05" fill="#c9c7cd" stroke="#2e2e2e" stroke-width="0.75"/>
<rect x="395.99" y="335.39" width="9.07" height="7.05" fill="#c9c7cd" stroke="#2e2e2e" stroke-width="0.75"/>
<rect x="405.06" y="335.39" width="9.07" height="7.05" fill="#c9c7cd" stroke="#2e2e2e" stroke-width="0.75"/>
<rect x="414.13" y="335.39" width="9.07" height="7.05" fill="#a8002b" stroke="#2a0a10" stroke-width="0.75"/>
<rect x="423.20" y="335.39" width="9.07" height="7.05" fill="#a8002b" stroke="#2a0a10" stroke-width="0.75"/>
<rect x="432.27" y="335.39" width="9.07" height="7.05" fill="#c9c7cd" stroke="#2e2e2e" stroke-width="0.75"/>
<rect x="441.34" y="335.39" width="9.07" height="7.05" fill="#c9c7cd" stroke="#2e2e2e" stroke-width="0.75"/>
<rect x="450.41" y="335.39" width="9.07" height="7.05" fill="#c9c7cd" stroke="#2e2e2e" stroke-width="0.75"/>
<rect x="459.48" y="335.39" width="9.07" height="7.05" fill="#c9c7cd" stroke="#2e2e2e" stroke-width="0.75"/>
<rect x="468.55" y="335.39" width="9.07" height="7.05" fill="#c9c7cd" stroke="#2e2e2e" stroke-width="0.75"/>
<text transform="translate(319.65,348.64) matrix(0.9500,0.001,0,1,0,0)" font-size="7.000" font-weight="normal" font-style="normal" fill="#111" color="#111">R2</text>
<rect x="359.71" y="342.44" width="9.07" height="7.05" fill="#c9c7cd" stroke="#2e2e2e" stroke-width="0.75"/>
<rect x="395.99" y="342.44" width="9.07" height="7.05" fill="#c9c7cd" stroke="#2e2e2e" stroke-width="0.75"/>
<rect x="405.06" y="342.44" width="9.07" height="7.05" fill="#c9c7cd" stroke="#2e2e2e" stroke-width="0.75"/>
<rect x="423.20" y="342.44" width="9.07" height="7.05" fill="#a8002b" stroke="#2a0a10" stroke-width="0.75"/>
<rect x="432.27" y="342.44" width="9.07" height="7.05" fill="#c9c7cd" stroke="#2e2e2e" stroke-width="0.75"/>
<text transform="translate(319.65,355.69) matrix(0.9500,0.001,0,1,0,0)" font-size="7.000" font-weight="normal" font-style="normal" fill="#111" color="#111">R3</text>
<rect x="423.20" y="349.49" width="9.07" height="7.05" fill="#a8002b" stroke="#2a0a10" stroke-width="0.75"/>
<text transform="translate(483.75,334.29) matrix(1.0000,0.001,0,1,0,0)" font-size="7.200" font-weight="normal" font-style="normal" fill="#111" color="#111">19</text>
<text transform="translate(483.75,341.34) matrix(1.0000,0.001,0,1,0,0)" font-size="7.200" font-weight="normal" font-style="normal" fill="#111" color="#111">13</text>
<text transform="translate(483.71,348.39) matrix(1.0000,0.001,0,1,0,0)" font-size="7.200" font-weight="normal" font-style="normal" fill="#111" color="#111">ND</text>
<text transform="translate(483.71,355.44) matrix(1.0000,0.001,0,1,0,0)" font-size="7.200" font-weight="normal" font-style="normal" fill="#111" color="#111">ND</text>
<text transform="translate(279.05,370.06) matrix(0.9899,0.001,0,1,0,0)" font-size="9.023" font-weight="normal" font-style="italic" fill="#111" color="#111">IGLL5</text>
<text transform="translate(319.65,370.06) matrix(0.9500,0.001,0,1,0,0)" font-size="7.000" font-weight="normal" font-style="normal" fill="#111" color="#111">D</text>
<rect x="332.50" y="363.86" width="9.07" height="7.05" fill="#c9c7cd" stroke="#2e2e2e" stroke-width="0.75"/>
<rect x="341.57" y="363.86" width="9.07" height="7.05" fill="#a8002b" stroke="#2a0a10" stroke-width="0.75"/>
<rect x="350.64" y="363.86" width="9.07" height="7.05" fill="#c9c7cd" stroke="#2e2e2e" stroke-width="0.75"/>
<rect x="359.71" y="363.86" width="9.07" height="7.05" fill="#c9c7cd" stroke="#2e2e2e" stroke-width="0.75"/>
<rect x="368.78" y="363.86" width="9.07" height="7.05" fill="#c9c7cd" stroke="#2e2e2e" stroke-width="0.75"/>
<rect x="377.85" y="363.86" width="9.07" height="7.05" fill="#c9c7cd" stroke="#2e2e2e" stroke-width="0.75"/>
<rect x="386.92" y="363.86" width="9.07" height="7.05" fill="#c9c7cd" stroke="#2e2e2e" stroke-width="0.75"/>
<rect x="395.99" y="363.86" width="9.07" height="7.05" fill="#c9c7cd" stroke="#2e2e2e" stroke-width="0.75"/>
<rect x="405.06" y="363.86" width="9.07" height="7.05" fill="#a8002b" stroke="#2a0a10" stroke-width="0.75"/>
<rect x="414.13" y="363.86" width="9.07" height="7.05" fill="#a8002b" stroke="#2a0a10" stroke-width="0.75"/>
<rect x="423.20" y="363.86" width="9.07" height="7.05" fill="#c9c7cd" stroke="#2e2e2e" stroke-width="0.75"/>
<rect x="432.27" y="363.86" width="9.07" height="7.05" fill="#c9c7cd" stroke="#2e2e2e" stroke-width="0.75"/>
<rect x="441.34" y="363.86" width="9.07" height="7.05" fill="#c9c7cd" stroke="#2e2e2e" stroke-width="0.75"/>
<rect x="450.41" y="363.86" width="9.07" height="7.05" fill="#c9c7cd" stroke="#2e2e2e" stroke-width="0.75"/>
<rect x="459.48" y="363.86" width="9.07" height="7.05" fill="#c9c7cd" stroke="#2e2e2e" stroke-width="0.75"/>
<rect x="468.55" y="363.86" width="9.07" height="7.05" fill="#c9c7cd" stroke="#2e2e2e" stroke-width="0.75"/>
<text transform="translate(319.65,377.11) matrix(0.9500,0.001,0,1,0,0)" font-size="7.000" font-weight="normal" font-style="normal" fill="#111" color="#111">R1</text>
<rect x="332.50" y="370.91" width="9.07" height="7.05" fill="#c9c7cd" stroke="#2e2e2e" stroke-width="0.75"/>
<rect x="341.57" y="370.91" width="9.07" height="7.05" fill="#a8002b" stroke="#2a0a10" stroke-width="0.75"/>
<rect x="350.64" y="370.91" width="9.07" height="7.05" fill="#c9c7cd" stroke="#2e2e2e" stroke-width="0.75"/>
<rect x="359.71" y="370.91" width="9.07" height="7.05" fill="#c9c7cd" stroke="#2e2e2e" stroke-width="0.75"/>
<rect x="368.78" y="370.91" width="9.07" height="7.05" fill="#c9c7cd" stroke="#2e2e2e" stroke-width="0.75"/>
<rect x="377.85" y="370.91" width="9.07" height="7.05" fill="#c9c7cd" stroke="#2e2e2e" stroke-width="0.75"/>
<rect x="386.92" y="370.91" width="9.07" height="7.05" fill="#c9c7cd" stroke="#2e2e2e" stroke-width="0.75"/>
<rect x="395.99" y="370.91" width="9.07" height="7.05" fill="#c9c7cd" stroke="#2e2e2e" stroke-width="0.75"/>
<rect x="405.06" y="370.91" width="9.07" height="7.05" fill="#a8002b" stroke="#2a0a10" stroke-width="0.75"/>
<rect x="414.13" y="370.91" width="9.07" height="7.05" fill="#a8002b" stroke="#2a0a10" stroke-width="0.75"/>
<rect x="423.20" y="370.91" width="9.07" height="7.05" fill="#c9c7cd" stroke="#2e2e2e" stroke-width="0.75"/>
<rect x="432.27" y="370.91" width="9.07" height="7.05" fill="#c9c7cd" stroke="#2e2e2e" stroke-width="0.75"/>
<rect x="441.34" y="370.91" width="9.07" height="7.05" fill="#c9c7cd" stroke="#2e2e2e" stroke-width="0.75"/>
<rect x="450.41" y="370.91" width="9.07" height="7.05" fill="#c9c7cd" stroke="#2e2e2e" stroke-width="0.75"/>
<rect x="459.48" y="370.91" width="9.07" height="7.05" fill="#c9c7cd" stroke="#2e2e2e" stroke-width="0.75"/>
<rect x="468.55" y="370.91" width="9.07" height="7.05" fill="#c9c7cd" stroke="#2e2e2e" stroke-width="0.75"/>
<text transform="translate(319.65,384.16) matrix(0.9500,0.001,0,1,0,0)" font-size="7.000" font-weight="normal" font-style="normal" fill="#111" color="#111">R2</text>
<rect x="359.71" y="377.96" width="9.07" height="7.05" fill="#c9c7cd" stroke="#2e2e2e" stroke-width="0.75"/>
<rect x="395.99" y="377.96" width="9.07" height="7.05" fill="#c9c7cd" stroke="#2e2e2e" stroke-width="0.75"/>
<rect x="405.06" y="377.96" width="9.07" height="7.05" fill="#c9c7cd" stroke="#2e2e2e" stroke-width="0.75"/>
<rect x="423.20" y="377.96" width="9.07" height="7.05" fill="#c9c7cd" stroke="#2e2e2e" stroke-width="0.75"/>
<rect x="432.27" y="377.96" width="9.07" height="7.05" fill="#c9c7cd" stroke="#2e2e2e" stroke-width="0.75"/>
<text transform="translate(319.65,391.21) matrix(0.9500,0.001,0,1,0,0)" font-size="7.000" font-weight="normal" font-style="normal" fill="#111" color="#111">R3</text>
<rect x="423.20" y="385.01" width="9.07" height="7.05" fill="#c9c7cd" stroke="#2e2e2e" stroke-width="0.75"/>
<text transform="translate(483.75,369.81) matrix(1.0000,0.001,0,1,0,0)" font-size="7.200" font-weight="normal" font-style="normal" fill="#111" color="#111">19</text>
<text transform="translate(483.75,376.86) matrix(1.0000,0.001,0,1,0,0)" font-size="7.200" font-weight="normal" font-style="normal" fill="#111" color="#111">19</text>
<text transform="translate(483.71,383.91) matrix(1.0000,0.001,0,1,0,0)" font-size="7.200" font-weight="normal" font-style="normal" fill="#111" color="#111">ND</text>
<text transform="translate(483.71,390.96) matrix(1.0000,0.001,0,1,0,0)" font-size="7.200" font-weight="normal" font-style="normal" fill="#111" color="#111">ND</text>
<text transform="translate(279.93,405.58) matrix(0.9682,0.001,0,1,0,0)" font-size="9.157" font-weight="normal" font-style="italic" fill="#111" color="#111">DNAH5</text>
<text transform="translate(319.65,405.58) matrix(0.9500,0.001,0,1,0,0)" font-size="7.000" font-weight="normal" font-style="normal" fill="#111" color="#111">D</text>
<rect x="332.50" y="399.38" width="9.07" height="7.05" fill="#c9c7cd" stroke="#2e2e2e" stroke-width="0.75"/>
<rect x="341.57" y="399.38" width="9.07" height="7.05" fill="#c9c7cd" stroke="#2e2e2e" stroke-width="0.75"/>
<rect x="350.64" y="399.38" width="9.07" height="7.05" fill="#c9c7cd" stroke="#2e2e2e" stroke-width="0.75"/>
<rect x="359.71" y="399.38" width="9.07" height="7.05" fill="#c9c7cd" stroke="#2e2e2e" stroke-width="0.75"/>
<rect x="368.78" y="399.38" width="9.07" height="7.05" fill="#c9c7cd" stroke="#2e2e2e" stroke-width="0.75"/>
<rect x="377.85" y="399.38" width="9.07" height="7.05" fill="#c9c7cd" stroke="#2e2e2e" stroke-width="0.75"/>
<rect x="386.92" y="399.38" width="9.07" height="7.05" fill="#c9c7cd" stroke="#2e2e2e" stroke-width="0.75"/>
<rect x="395.99" y="399.38" width="9.07" height="7.05" fill="#c9c7cd" stroke="#2e2e2e" stroke-width="0.75"/>
<rect x="405.06" y="399.38" width="9.07" height="7.05" fill="#c9c7cd" stroke="#2e2e2e" stroke-width="0.75"/>
<rect x="414.13" y="399.38" width="9.07" height="7.05" fill="#c9c7cd" stroke="#2e2e2e" stroke-width="0.75"/>
<rect x="423.20" y="399.38" width="9.07" height="7.05" fill="#c9c7cd" stroke="#2e2e2e" stroke-width="0.75"/>
<rect x="432.27" y="399.38" width="9.07" height="7.05" fill="#a8002b" stroke="#2a0a10" stroke-width="0.75"/>
<rect x="441.34" y="399.38" width="9.07" height="7.05" fill="#c9c7cd" stroke="#2e2e2e" stroke-width="0.75"/>
<rect x="450.41" y="399.38" width="9.07" height="7.05" fill="#c9c7cd" stroke="#2e2e2e" stroke-width="0.75"/>
<rect x="459.48" y="399.38" width="9.07" height="7.05" fill="#c9c7cd" stroke="#2e2e2e" stroke-width="0.75"/>
<rect x="468.55" y="399.38" width="9.07" height="7.05" fill="#c9c7cd" stroke="#2e2e2e" stroke-width="0.75"/>
<text transform="translate(319.65,412.63) matrix(0.9500,0.001,0,1,0,0)" font-size="7.000" font-weight="normal" font-style="normal" fill="#111" color="#111">R1</text>
<rect x="332.50" y="406.43" width="9.07" height="7.05" fill="#c9c7cd" stroke="#2e2e2e" stroke-width="0.75"/>
<rect x="341.57" y="406.43" width="9.07" height="7.05" fill="#a8002b" stroke="#2a0a10" stroke-width="0.75"/>
<rect x="350.64" y="406.43" width="9.07" height="7.05" fill="#a8002b" stroke="#2a0a10" stroke-width="0.75"/>
<rect x="359.71" y="406.43" width="9.07" height="7.05" fill="#c9c7cd" stroke="#2e2e2e" stroke-width="0.75"/>
<rect x="368.78" y="406.43" width="9.07" height="7.05" fill="#c9c7cd" stroke="#2e2e2e" stroke-width="0.75"/>
<rect x="377.85" y="406.43" width="9.07" height="7.05" fill="#c9c7cd" stroke="#2e2e2e" stroke-width="0.75"/>
<rect x="386.92" y="406.43" width="9.07" height="7.05" fill="#a8002b" stroke="#2a0a10" stroke-width="0.75"/>
<rect x="395.99" y="406.43" width="9.07" height="7.05" fill="#c9c7cd" stroke="#2e2e2e" stroke-width="0.75"/>
<rect x="405.06" y="406.43" width="9.07" height="7.05" fill="#c9c7cd" stroke="#2e2e2e" stroke-width="0.75"/>
<rect x="414.13" y="406.43" width="9.07" height="7.05" fill="#c9c7cd" stroke="#2e2e2e" stroke-width="0.75"/>
<rect x="423.20" y="406.43" width="9.07" height="7.05" fill="#c9c7cd" stroke="#2e2e2e" stroke-width="0.75"/>
<rect x="432.27" y="406.43" width="9.07" height="7.05" fill="#a8002b" stroke="#2a0a10" stroke-width="0.75"/>
<rect x="441.34" y="406.43" width="9.07" height="7.05" fill="#c9c7cd" stroke="#2e2e2e" stroke-width="0.75"/>
<rect x="450.41" y="406.43" width="9.07" height="7.05" fill="#c9c7cd" stroke="#2e2e2e" stroke-width="0.75"/>
<rect x="459.48" y="406.43" width="9.07" height="7.05" fill="#c9c7cd" stroke="#2e2e2e" stroke-width="0.75"/>
<rect x="468.55" y="406.43" width="9.07" height="7.05" fill="#c9c7cd" stroke="#2e2e2e" stroke-width="0.75"/>
<text transform="translate(319.65,419.68) matrix(0.9500,0.001,0,1,0,0)" font-size="7.000" font-weight="normal" font-style="normal" fill="#111" color="#111">R2</text>
<rect x="359.71" y="413.48" width="9.07" height="7.05" fill="#c9c7cd" stroke="#2e2e2e" stroke-width="0.75"/>
<rect x="395.99" y="413.48" width="9.07" height="7.05" fill="#c9c7cd" stroke="#2e2e2e" stroke-width="0.75"/>
<rect x="405.06" y="413.48" width="9.07" height="7.05" fill="#c9c7cd" stroke="#2e2e2e" stroke-width="0.75"/>
<rect x="423.20" y="413.48" width="9.07" height="7.05" fill="#c9c7cd" stroke="#2e2e2e" stroke-width="0.75"/>
<rect x="432.27" y="413.48" width="9.07" height="7.05" fill="#a8002b" stroke="#2a0a10" stroke-width="0.75"/>
<text transform="translate(319.65,426.73) matrix(0.9500,0.001,0,1,0,0)" font-size="7.000" font-weight="normal" font-style="normal" fill="#111" color="#111">R3</text>
<rect x="423.20" y="420.53" width="9.07" height="7.05" fill="#c9c7cd" stroke="#2e2e2e" stroke-width="0.75"/>
<text transform="translate(483.93,405.33) matrix(1.0000,0.001,0,1,0,0)" font-size="7.200" font-weight="normal" font-style="normal" fill="#111" color="#111">6</text>
<text transform="translate(483.94,412.38) matrix(1.0000,0.001,0,1,0,0)" font-size="7.200" font-weight="normal" font-style="normal" fill="#111" color="#111">25</text>
<text transform="translate(483.71,419.43) matrix(1.0000,0.001,0,1,0,0)" font-size="7.200" font-weight="normal" font-style="normal" fill="#111" color="#111">ND</text>
<text transform="translate(483.71,426.48) matrix(1.0000,0.001,0,1,0,0)" font-size="7.200" font-weight="normal" font-style="normal" fill="#111" color="#111">ND</text>
<text transform="translate(276.60,441.10) matrix(1.0293,0.001,0,1,0,0)" font-size="9.023" font-weight="normal" font-style="italic" fill="#111" color="#111">WSCD2</text>
<text transform="translate(319.65,441.10) matrix(0.9500,0.001,0,1,0,0)" font-size="7.000" font-weight="normal" font-style="normal" fill="#111" color="#111">D</text>
<rect x="332.50" y="434.90" width="9.07" height="7.05" fill="#c9c7cd" stroke="#2e2e2e" stroke-width="0.75"/>
<rect x="341.57" y="434.90" width="9.07" height="7.05" fill="#c9c7cd" stroke="#2e2e2e" stroke-width="0.75"/>
<rect x="350.64" y="434.90" width="9.07" height="7.05" fill="#c9c7cd" stroke="#2e2e2e" stroke-width="0.75"/>
<rect x="359.71" y="434.90" width="9.07" height="7.05" fill="#c9c7cd" stroke="#2e2e2e" stroke-width="0.75"/>
<rect x="368.78" y="434.90" width="9.07" height="7.05" fill="#c9c7cd" stroke="#2e2e2e" stroke-width="0.75"/>
<rect x="377.85" y="434.90" width="9.07" height="7.05" fill="#c9c7cd" stroke="#2e2e2e" stroke-width="0.75"/>
<rect x="386.92" y="434.90" width="9.07" height="7.05" fill="#c9c7cd" stroke="#2e2e2e" stroke-width="0.75"/>
<rect x="395.99" y="434.90" width="9.07" height="7.05" fill="#c9c7cd" stroke="#2e2e2e" stroke-width="0.75"/>
<rect x="405.06" y="434.90" width="9.07" height="7.05" fill="#c9c7cd" stroke="#2e2e2e" stroke-width="0.75"/>
<rect x="414.13" y="434.90" width="9.07" height="7.05" fill="#c9c7cd" stroke="#2e2e2e" stroke-width="0.75"/>
<rect x="423.20" y="434.90" width="9.07" height="7.05" fill="#c9c7cd" stroke="#2e2e2e" stroke-width="0.75"/>
<rect x="432.27" y="434.90" width="9.07" height="7.05" fill="#c9c7cd" stroke="#2e2e2e" stroke-width="0.75"/>
<rect x="441.34" y="434.90" width="9.07" height="7.05" fill="#c9c7cd" stroke="#2e2e2e" stroke-width="0.75"/>
<rect x="450.41" y="434.90" width="9.07" height="7.05" fill="#c9c7cd" stroke="#2e2e2e" stroke-width="0.75"/>
<rect x="459.48" y="434.90" width="9.07" height="7.05" fill="#c9c7cd" stroke="#2e2e2e" stroke-width="0.75"/>
<rect x="468.55" y="434.90" width="9.07" height="7.05" fill="#c9c7cd" stroke="#2e2e2e" stroke-width="0.75"/>
<text transform="translate(319.65,448.15) matrix(0.9500,0.001,0,1,0,0)" font-size="7.000" font-weight="normal" font-style="normal" fill="#111" color="#111">R1</text>
<rect x="332.50" y="441.95" width="9.07" height="7.05" fill="#c9c7cd" stroke="#2e2e2e" stroke-width="0.75"/>
<rect x="341.57" y="441.95" width="9.07" height="7.05" fill="#c9c7cd" stroke="#2e2e2e" stroke-width="0.75"/>
<rect x="350.64" y="441.95" width="9.07" height="7.05" fill="#c9c7cd" stroke="#2e2e2e" stroke-width="0.75"/>
<rect x="359.71" y="441.95" width="9.07" height="7.05" fill="#c9c7cd" stroke="#2e2e2e" stroke-width="0.75"/>
<rect x="368.78" y="441.95" width="9.07" height="7.05" fill="#a8002b" stroke="#2a0a10" stroke-width="0.75"/>
<rect x="377.85" y="441.95" width="9.07" height="7.05" fill="#c9c7cd" stroke="#2e2e2e" stroke-width="0.75"/>
<rect x="386.92" y="441.95" width="9.07" height="7.05" fill="#a8002b" stroke="#2a0a10" stroke-width="0.75"/>
<rect x="395.99" y="441.95" width="9.07" height="7.05" fill="#c9c7cd" stroke="#2e2e2e" stroke-width="0.75"/>
<rect x="405.06" y="441.95" width="9.07" height="7.05" fill="#c9c7cd" stroke="#2e2e2e" stroke-width="0.75"/>
<rect x="414.13" y="441.95" width="9.07" height="7.05" fill="#c9c7cd" stroke="#2e2e2e" stroke-width="0.75"/>
<rect x="423.20" y="441.95" width="9.07" height="7.05" fill="#c9c7cd" stroke="#2e2e2e" stroke-width="0.75"/>
<rect x="432.27" y="441.95" width="9.07" height="7.05" fill="#c9c7cd" stroke="#2e2e2e" stroke-width="0.75"/>
<rect x="441.34" y="441.95" width="9.07" height="7.05" fill="#c9c7cd" stroke="#2e2e2e" stroke-width="0.75"/>
<rect x="450.41" y="441.95" width="9.07" height="7.05" fill="#c9c7cd" stroke="#2e2e2e" stroke-width="0.75"/>
<rect x="459.48" y="441.95" width="9.07" height="7.05" fill="#c9c7cd" stroke="#2e2e2e" stroke-width="0.75"/>
<rect x="468.55" y="441.95" width="9.07" height="7.05" fill="#c9c7cd" stroke="#2e2e2e" stroke-width="0.75"/>
<text transform="translate(319.65,455.20) matrix(0.9500,0.001,0,1,0,0)" font-size="7.000" font-weight="normal" font-style="normal" fill="#111" color="#111">R2</text>
<rect x="359.71" y="449.00" width="9.07" height="7.05" fill="#c9c7cd" stroke="#2e2e2e" stroke-width="0.75"/>
<rect x="423.20" y="449.00" width="9.07" height="7.05" fill="#c9c7cd" stroke="#2e2e2e" stroke-width="0.75"/>
<rect x="432.27" y="449.00" width="9.07" height="7.05" fill="#a8002b" stroke="#2a0a10" stroke-width="0.75"/>
<text transform="translate(319.65,462.25) matrix(0.9500,0.001,0,1,0,0)" font-size="7.000" font-weight="normal" font-style="normal" fill="#111" color="#111">R3</text>
<rect x="423.20" y="456.05" width="9.07" height="7.05" fill="#c9c7cd" stroke="#2e2e2e" stroke-width="0.75"/>
<text transform="translate(484.02,440.85) matrix(1.0000,0.001,0,1,0,0)" font-size="7.200" font-weight="normal" font-style="normal" fill="#111" color="#111">0</text>
<text transform="translate(483.75,447.90) matrix(1.0000,0.001,0,1,0,0)" font-size="7.200" font-weight="normal" font-style="normal" fill="#111" color="#111">13</text>
<text transform="translate(483.71,454.95) matrix(1.0000,0.001,0,1,0,0)" font-size="7.200" font-weight="normal" font-style="normal" fill="#111" color="#111">ND</text>
<text transform="translate(483.71,462.00) matrix(1.0000,0.001,0,1,0,0)" font-size="7.200" font-weight="normal" font-style="normal" fill="#111" color="#111">ND</text>
<text transform="translate(279.91,476.62) matrix(0.9722,0.001,0,1,0,0)" font-size="9.023" font-weight="normal" font-style="italic" fill="#111" color="#111">TP53</text>
<text transform="translate(319.65,476.62) matrix(0.9500,0.001,0,1,0,0)" font-size="7.000" font-weight="normal" font-style="normal" fill="#111" color="#111">D</text>
<rect x="332.50" y="470.42" width="9.07" height="7.05" fill="#c9c7cd" stroke="#2e2e2e" stroke-width="0.75"/>
<rect x="341.57" y="470.42" width="9.07" height="7.05" fill="#a8002b" stroke="#2a0a10" stroke-width="0.75"/>
<rect x="350.64" y="470.42" width="9.07" height="7.05" fill="#c9c7cd" stroke="#2e2e2e" stroke-width="0.75"/>
<rect x="359.71" y="470.42" width="9.07" height="7.05" fill="#c9c7cd" stroke="#2e2e2e" stroke-width="0.75"/>
<rect x="368.78" y="470.42" width="9.07" height="7.05" fill="#c9c7cd" stroke="#2e2e2e" stroke-width="0.75"/>
<rect x="377.85" y="470.42" width="9.07" height="7.05" fill="#c9c7cd" stroke="#2e2e2e" stroke-width="0.75"/>
<rect x="386.92" y="470.42" width="9.07" height="7.05" fill="#c9c7cd" stroke="#2e2e2e" stroke-width="0.75"/>
<rect x="395.99" y="470.42" width="9.07" height="7.05" fill="#c9c7cd" stroke="#2e2e2e" stroke-width="0.75"/>
<rect x="405.06" y="470.42" width="9.07" height="7.05" fill="#c9c7cd" stroke="#2e2e2e" stroke-width="0.75"/>
<rect x="414.13" y="470.42" width="9.07" height="7.05" fill="#c9c7cd" stroke="#2e2e2e" stroke-width="0.75"/>
<rect x="423.20" y="470.42" width="9.07" height="7.05" fill="#c9c7cd" stroke="#2e2e2e" stroke-width="0.75"/>
<rect x="432.27" y="470.42" width="9.07" height="7.05" fill="#c9c7cd" stroke="#2e2e2e" stroke-width="0.75"/>
<rect x="441.34" y="470.42" width="9.07" height="7.05" fill="#c9c7cd" stroke="#2e2e2e" stroke-width="0.75"/>
<rect x="450.41" y="470.42" width="9.07" height="7.05" fill="#c9c7cd" stroke="#2e2e2e" stroke-width="0.75"/>
<rect x="459.48" y="470.42" width="9.07" height="7.05" fill="#c9c7cd" stroke="#2e2e2e" stroke-width="0.75"/>
<rect x="468.55" y="470.42" width="9.07" height="7.05" fill="#c9c7cd" stroke="#2e2e2e" stroke-width="0.75"/>
<text transform="translate(319.65,483.67) matrix(0.9500,0.001,0,1,0,0)" font-size="7.000" font-weight="normal" font-style="normal" fill="#111" color="#111">R1</text>
<rect x="332.50" y="477.47" width="9.07" height="7.05" fill="#c9c7cd" stroke="#2e2e2e" stroke-width="0.75"/>
<rect x="341.57" y="477.47" width="9.07" height="7.05" fill="#a8002b" stroke="#2a0a10" stroke-width="0.75"/>
<rect x="350.64" y="477.47" width="9.07" height="7.05" fill="#a8002b" stroke="#2a0a10" stroke-width="0.75"/>
<rect x="359.71" y="477.47" width="9.07" height="7.05" fill="#c9c7cd" stroke="#2e2e2e" stroke-width="0.75"/>
<rect x="368.78" y="477.47" width="9.07" height="7.05" fill="#c9c7cd" stroke="#2e2e2e" stroke-width="0.75"/>
<rect x="377.85" y="477.47" width="9.07" height="7.05" fill="#c9c7cd" stroke="#2e2e2e" stroke-width="0.75"/>
<rect x="386.92" y="477.47" width="9.07" height="7.05" fill="#c9c7cd" stroke="#2e2e2e" stroke-width="0.75"/>
<rect x="395.99" y="477.47" width="9.07" height="7.05" fill="#c9c7cd" stroke="#2e2e2e" stroke-width="0.75"/>
<rect x="405.06" y="477.47" width="9.07" height="7.05" fill="#c9c7cd" stroke="#2e2e2e" stroke-width="0.75"/>
<rect x="414.13" y="477.47" width="9.07" height="7.05" fill="#c9c7cd" stroke="#2e2e2e" stroke-width="0.75"/>
<rect x="423.20" y="477.47" width="9.07" height="7.05" fill="#a8002b" stroke="#2a0a10" stroke-width="0.75"/>
<rect x="432.27" y="477.47" width="9.07" height="7.05" fill="#c9c7cd" stroke="#2e2e2e" stroke-width="0.75"/>
<rect x="441.34" y="477.47" width="9.07" height="7.05" fill="#c9c7cd" stroke="#2e2e2e" stroke-width="0.75"/>
<rect x="450.41" y="477.47" width="9.07" height="7.05" fill="#c9c7cd" stroke="#2e2e2e" stroke-width="0.75"/>
<rect x="459.48" y="477.47" width="9.07" height="7.05" fill="#c9c7cd" stroke="#2e2e2e" stroke-width="0.75"/>
<rect x="468.55" y="477.47" width="9.07" height="7.05" fill="#c9c7cd" stroke="#2e2e2e" stroke-width="0.75"/>
<text transform="translate(319.65,490.72) matrix(0.9500,0.001,0,1,0,0)" font-size="7.000" font-weight="normal" font-style="normal" fill="#111" color="#111">R2</text>
<rect x="359.71" y="484.52" width="9.07" height="7.05" fill="#a8002b" stroke="#2a0a10" stroke-width="0.75"/>
<rect x="395.99" y="484.52" width="9.07" height="7.05" fill="#c9c7cd" stroke="#2e2e2e" stroke-width="0.75"/>
<rect x="405.06" y="484.52" width="9.07" height="7.05" fill="#c9c7cd" stroke="#2e2e2e" stroke-width="0.75"/>
<rect x="423.20" y="484.52" width="9.07" height="7.05" fill="#a8002b" stroke="#2a0a10" stroke-width="0.75"/>
<rect x="432.27" y="484.52" width="9.07" height="7.05" fill="#c9c7cd" stroke="#2e2e2e" stroke-width="0.75"/>
<text transform="translate(319.65,497.77) matrix(0.9500,0.001,0,1,0,0)" font-size="7.000" font-weight="normal" font-style="normal" fill="#111" color="#111">R3</text>
<rect x="423.20" y="491.57" width="9.07" height="7.05" fill="#a8002b" stroke="#2a0a10" stroke-width="0.75"/>
<text transform="translate(485.23,476.37) matrix(1.0000,0.001,0,1,0,0)" font-size="7.200" font-weight="normal" font-style="normal" fill="#111" color="#111">6</text>
<text transform="translate(483.75,483.42) matrix(1.0000,0.001,0,1,0,0)" font-size="7.200" font-weight="normal" font-style="normal" fill="#111" color="#111">19</text>
<text transform="translate(483.71,490.47) matrix(1.0000,0.001,0,1,0,0)" font-size="7.200" font-weight="normal" font-style="normal" fill="#111" color="#111">ND</text>
<text transform="translate(483.71,497.52) matrix(1.0000,0.001,0,1,0,0)" font-size="7.200" font-weight="normal" font-style="normal" fill="#111" color="#111">ND</text>
<rect x="333.1" y="502.3" width="6.8" height="6.4" fill="#a8002b" stroke="#2a2a2a" stroke-width="0.8"/>
<text transform="translate(342.78,508.50) matrix(1.0402,0.001,0,1,0,0)" font-size="8.418" font-weight="normal" font-style="normal" fill="#111" color="#111">Mutation</text>
<rect x="390.8" y="502.3" width="6.8" height="6.4" fill="#c9c7cd" stroke="#555" stroke-width="0.8"/>
<text transform="translate(401.09,508.50) matrix(1.0215,0.001,0,1,0,0)" font-size="8.418" font-weight="normal" font-style="normal" fill="#111" color="#111">No mutation</text>
<rect x="0" y="0" width="520" height="1.05" fill="#000"/>
<rect x="0" y="0" width="1.15" height="517" fill="#000"/>
<rect x="518.8" y="0" width="1.2" height="517" fill="#000"/>
<rect x="0" y="515.5" width="520" height="1.5" fill="#000"/>
</svg></div></body></html>
